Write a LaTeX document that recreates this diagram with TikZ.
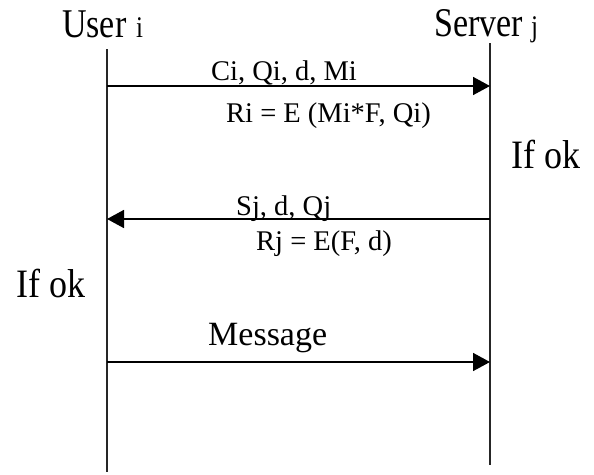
\documentclass[tikz,border=0pt]{standalone}
\usepackage{fontspec}
\setmainfont{Liberation Serif}
\usetikzlibrary{arrows.meta}
\tikzset{
  lbl/.style={inner sep=0pt, anchor=base west, font=\fontsize{28.5}{30}\selectfont},
  big/.style={inner sep=0pt, anchor=base west, font=\fontsize{34}{36}\selectfont},
  okstyle/.style={inner sep=0pt, anchor=base west, font=\fontsize{36}{38}\selectfont},
  sub/.style={inner sep=0pt, anchor=base west, font=\fontsize{25}{27}\selectfont},
  life/.style={line width=1.4pt, black!85},
  msg/.style={line width=1.6pt, -{Triangle[length=17pt,width=18pt]}}
}
\begin{document}
\begin{tikzpicture}[x=1pt,y=-1pt]
\useasboundingbox (0,0) rectangle (594,474);
% titles
\node[big] (user) at (62,37) {\scalebox{1}[1.2]{User}};
\node[sub] (useri) at (136,37) {\scalebox{1}[1.2]{i}};
\node[big] (server) at (434,36) {\scalebox{1}[1.2]{Server}};
\node[sub] (serverj) at (531,36) {\scalebox{1}[1.2]{j}};
% lifelines
\coordinate (utop) at (107,49);
\coordinate (ubot) at (107,472);
\coordinate (stop) at (490,43);
\coordinate (sbot) at (490,465);
\draw[life] (utop) -- (ubot);
\draw[life] (stop) -- (sbot);
% message 1
\coordinate (u1) at (107,86);
\coordinate (s1) at (490,86);
\draw[msg] (u1) -- (s1);
\node[lbl] (l1) at (211,80) {Ci, Qi, d, Mi};
\node[lbl] (r1) at (226,122) {Ri = E (Mi*F, Qi)};
\node[okstyle] (ok1) at (511,168) {\scalebox{1}[1.12]{If ok}};
% message 2
\coordinate (s2) at (490,219);
\coordinate (u2) at (107,219);
\draw[msg] (s2) -- (u2);
\node[lbl] (l2) at (236,215) {Sj, d, Qj};
\node[lbl] (r2) at (256,250) {Rj = E(F, d)};
\node[okstyle] (ok2) at (16,297) {\scalebox{1}[1.12]{If ok}};
% message 3
\node[big] (l3) at (208,345) {Message};
\coordinate (u3) at (107,362);
\coordinate (s3) at (490,362);
\draw[msg] (u3) -- (s3);
\end{tikzpicture}
\end{document}
